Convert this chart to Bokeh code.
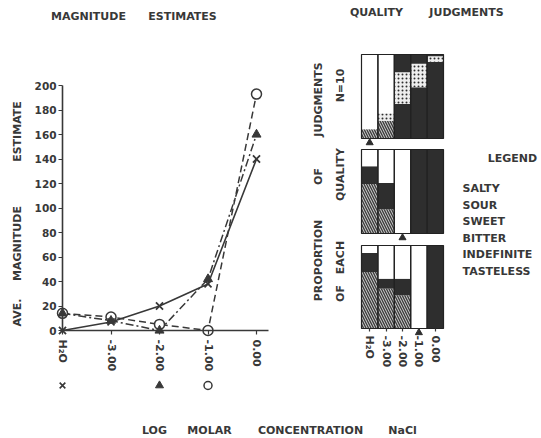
import math
from bokeh.plotting import figure
from bokeh.models import Range1d, LinearAxis, FixedTicker, Label
from bokeh.embed import file_html
from bokeh.resources import INLINE

# ---------------- data ----------------
concentrations = ["H\u2082O", "-3.00", "-2.00", "-1.00", "0.00"]
y_ticks = [0, 20, 40, 60, 80, 100, 120, 140, 160, 180, 200]

# average magnitude estimates for the three groups
est_cross = [0, 7, 20, 38, 140]
est_triangle = [14, 8, 0, 42, 160]
est_circle = [14, 11, 5, 0, 193]

# concentration index marked below the axis for each group
threshold_cross = 0
threshold_triangle = 2
threshold_circle = 3

# quality judgments: proportion of judgments, stacked bottom -> top
# panel 1 (cross group)
q1_hatched = [0.11, 0.21, 0.00, 0.00, 0.00]
q1_dark = [0.00, 0.00, 0.41, 0.61, 0.91]
q1_dotted = [0.00, 0.09, 0.38, 0.28, 0.07]
q1_dark_top = [0.00, 0.00, 0.21, 0.11, 0.02]
q1_white = [0.89, 0.70, 0.00, 0.00, 0.00]
# panel 2 (triangle group)
q2_hatched = [0.59, 0.29, 0.00, 0.00, 0.00]
q2_dark = [0.21, 0.31, 0.00, 1.00, 1.00]
q2_dotted = [0.00, 0.00, 0.00, 0.00, 0.00]
q2_dark_top = [0.00, 0.00, 0.00, 0.00, 0.00]
q2_white = [0.20, 0.40, 1.00, 0.00, 0.00]
# panel 3 (circle group)
q3_hatched = [0.68, 0.48, 0.40, 0.00, 0.00]
q3_dark = [0.23, 0.12, 0.20, 0.00, 1.00]
q3_dotted = [0.00, 0.00, 0.00, 0.00, 0.00]
q3_dark_top = [0.00, 0.00, 0.00, 0.00, 0.00]
q3_white = [0.09, 0.40, 0.40, 1.00, 0.00]

legend_labels = ["SALTY", "SOUR", "SWEET", "BITTER", "INDEFINITE", "TASTELESS"]

# ---------------- layout / style ----------------
W, H = 541, 438
FONT = "DejaVu Sans"
INK = "#383838"
DARK = "#2e2e2e"

# line chart geometry (screen px, from top)
LX0, LDX = 62.0, 48.5      # x of first category, px per category
LY0, LDY = 330.0, 1.225    # y of value 0, px per unit

x_start = -LX0 / LDX
x_end = (W - LX0) / LDX
yb = H - LY0
y_start = -yb / LDY
y_end = (H - yb) / LDY

p = figure(width=W, height=H,
           x_range=Range1d(x_start, x_end), y_range=Range1d(y_start, y_end),
           x_axis_type=None, y_axis_type=None,
           toolbar_location=None, output_backend="svg",
           min_border=0, outline_line_color=None)
p.background_fill_color = "white"
p.border_fill_color = "white"

common_axis = dict(
    axis_line_color=INK, axis_line_width=1.6,
    major_tick_line_color=INK, major_tick_line_width=1.2,
    minor_tick_out=0, minor_tick_in=0, major_tick_in=0,
    major_label_text_font=FONT, major_label_text_font_style="bold",
    major_label_text_color=INK,
)

yax = LinearAxis(fixed_location=0, bounds=(0, 200),
                 ticker=FixedTicker(ticks=y_ticks),
                 major_tick_out=4, major_label_standoff=2,
                 major_label_text_font_size="10.5px", **common_axis)
p.add_layout(yax, "left")

xs = list(range(len(concentrations)))
xax = LinearAxis(fixed_location=0, bounds=(0, 4.25),
                 ticker=FixedTicker(ticks=xs),
                 major_label_overrides={i: lab for i, lab in enumerate(concentrations)},
                 major_label_orientation="vertical",
                 major_tick_out=4, major_label_standoff=5,
                 major_label_text_font_size="11px", **common_axis)
p.add_layout(xax, "below")

# lines + markers
p.line(xs, est_circle, line_color=INK, line_width=1.5, line_dash="7 4")
p.line(xs, est_triangle, line_color=INK, line_width=1.5, line_dash="8 3 2 3")
p.line(xs, est_cross, line_color=INK, line_width=1.6)
p.scatter(xs, est_circle, marker="circle", size=10, fill_color="white",
          line_color=INK, line_width=1.5)
p.scatter(xs, est_triangle, marker="triangle", size=9, fill_color=INK, line_color=INK)
p.scatter(xs, est_cross, marker="x", size=10, line_color=INK, line_width=1.8)

# markers below the axis
MARK_Y = -(385 - LY0) / LDY
p.scatter([threshold_cross], [MARK_Y], marker="x", size=8, line_color=INK, line_width=1.6)
p.scatter([threshold_triangle], [MARK_Y], marker="triangle", size=8, fill_color=INK, line_color=INK)
p.scatter([threshold_circle], [MARK_Y], marker="circle", size=8, fill_color="white",
          line_color=INK, line_width=1.5)

# ---------------- quality judgment panels ----------------
BX0, BDX = 361.0, 16.4     # left edge of the panels, px per bar
bc0 = BX0 + BDX / 2
p.extra_x_ranges = {"bars": Range1d(-bc0 / BDX, (W - bc0) / BDX)}

panels_px = [(54, 138), (149, 233), (245, 328)]   # (top, bottom) screen px
extra_y = {}
for k, (top, bot) in enumerate(panels_px):
    b = H - bot
    s = bot - top
    extra_y["q%d" % (k + 1)] = Range1d(-b / s, (H - b) / s)
p.extra_y_ranges = extra_y

panel_data = [
    (q1_hatched, q1_dark, q1_dotted, q1_dark_top, q1_white),
    (q2_hatched, q2_dark, q2_dotted, q2_dark_top, q2_white),
    (q3_hatched, q3_dark, q3_dotted, q3_dark_top, q3_white),
]
styles = [
    dict(fill_color="#c8c8c8", hatch_pattern="\\", hatch_color="#3a3a3a", hatch_scale=5, hatch_weight=1.3),
    dict(fill_color=DARK),
    dict(fill_color="#eeeeee", hatch_pattern=".", hatch_color=DARK, hatch_scale=4, hatch_weight=1.5),
    dict(fill_color=DARK),
    dict(fill_color="white"),
]
thresholds = [threshold_cross, threshold_triangle, threshold_circle]

for k, layers in enumerate(panel_data):
    rn = "q%d" % (k + 1)
    base = [0.0] * len(xs)
    for vals, st in zip(layers, styles):
        tops = [b + v for b, v in zip(base, vals)]
        p.vbar(x=xs, bottom=base, top=tops, width=1.0, line_color=None,
               x_range_name="bars", y_range_name=rn, **st)
        base = tops
    p.vbar(x=xs, bottom=0, top=1, width=1.0, fill_color=None, line_color="#222222",
           line_width=1.2, x_range_name="bars", y_range_name=rn)
    p.scatter([thresholds[k]], [-0.05], marker="triangle", size=7, fill_color=DARK,
              line_color=DARK, x_range_name="bars", y_range_name=rn)

bax = LinearAxis(x_range_name="bars", y_range_name="q3", fixed_location=0,
                 bounds=(-0.5, 4.5), ticker=FixedTicker(ticks=xs),
                 major_label_overrides={i: lab for i, lab in enumerate(concentrations)},
                 major_label_orientation="vertical",
                 major_tick_out=3, major_label_standoff=4,
                 major_label_text_font_size="11px", **common_axis)
bax.axis_line_color = None
p.add_layout(bax, "below")

# ---------------- texts ----------------
def label(text, x, y, size="11px", angle=0.0, align="center"):
    p.add_layout(Label(x=x, y=H - y, x_units="screen", y_units="screen", text=text,
                       angle=angle, angle_units="rad", text_align=align,
                       text_baseline="middle", text_font=FONT, text_font_style="bold",
                       text_font_size=size, text_color=INK))

V = math.pi / 2
# titles
label("MAGNITUDE", 88, 16)
label("ESTIMATES", 182, 16)
label("QUALITY", 376, 12)
label("JUDGMENTS", 466, 12)
# left axis title
label("AVE.", 17, 312, angle=V)
label("MAGNITUDE", 17, 243, angle=V)
label("ESTIMATE", 17, 131, angle=V)
# bottom axis title
label("LOG", 154, 430)
label("MOLAR", 209, 430)
label("CONCENTRATION", 310, 430)
label("NaCl", 402, 430)
# right axis titles
label("PROPORTION", 318, 260, angle=V)
label("OF", 318, 176, angle=V)
label("JUDGMENTS", 318, 99, angle=V)
label("OF", 340, 293, angle=V)
label("EACH", 340, 257, angle=V)
label("QUALITY", 340, 174, angle=V)
label("N=10", 340, 85, angle=V)
# legend
label("LEGEND", 512, 158)
for i, name in enumerate(legend_labels):
    label(name, 462, 188 + i * 16.6, align="left")

open("out.html", "w").write(file_html(p, INLINE))
